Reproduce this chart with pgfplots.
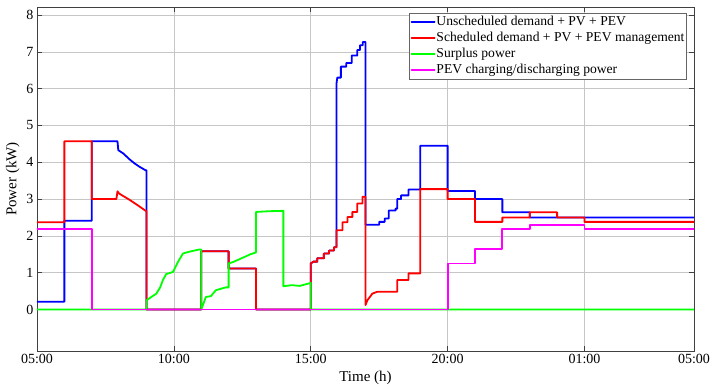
\documentclass[border=0pt]{standalone}
\usepackage{pgfplots}
\pgfplotsset{compat=1.18}
\usepackage{fontspec}
\setmainfont{Liberation Serif}
\usetikzlibrary{calc}
\definecolor{cblue}{RGB}{0,0,255}
\definecolor{cred}{RGB}{255,0,0}
\definecolor{cgreen}{RGB}{0,255,0}
\definecolor{cmag}{RGB}{255,0,255}
\begin{document}
\begin{tikzpicture}
\begin{axis}[
  name=ax,
  at={(0,0)}, anchor=south west,
  scale only axis,
  width=657pt, height=344pt,
  xmin=5, xmax=29, ymin=-1.13, ymax=8.22,
  xtick={5,10,15,20,25,29},
  xticklabels={05:00,10:00,15:00,20:00,01:00,05:00},
  ytick={0,1,2,3,4,5,6,7,8},
  /pgf/number format/assume math mode=true,
  ticklabel style={font=\fontsize{14}{16}\selectfont},
  label style={font=\fontsize{15}{17}\selectfont},
  xlabel={Time (h)},
  ylabel={Power (kW)},
  grid=major,
  major grid style={gray!45, line width=0.6pt},
  axis line style={black!75, line width=0.6pt},
  tick style={black!75, line width=0.6pt},
  tick align=inside,
  major tick length=5pt,
  every axis plot/.append style={line width=1.8pt, line join=round, line cap=round},
  legend image code/.code={\draw[#1, line width=1.8pt] (0pt,0pt) -- (23pt,0pt);},
  legend cell align=left,
  legend style={at={(0.989,0.983)}, anchor=north east,
    font=\fontsize{13.6}{15}\selectfont,
    draw=black!60, line width=0.6pt,
    inner xsep=1pt, inner ysep=1pt, row sep=0pt,
    nodes={inner xsep=1pt, inner ysep=1pt, text height=10.5pt, text depth=3.5pt}},
]
\addplot[color=cblue] coordinates {
(5,0.21)(6,0.21)(6,2.41)(7,2.41)(7,4.57)(7.94,4.57)(7.97,4.33)(8.15,4.24)(8.38,4.08)(8.56,3.97)(8.74,3.88)(8.97,3.78)(9,3.78)(9,0)
(11,0)(11,1.58)(12,1.58)(12,1.11)(13,1.11)(13,0)(15,0)(15,1.25)(15.1,1.3)(15.24,1.3)(15.24,1.39)(15.48,1.39)(15.48,1.52)(15.67,1.52)(15.67,1.6)(15.85,1.6)(15.85,1.69)(15.94,1.69)
(15.94,6.14)(15.97,6.3)(16.1,6.3)(16.1,6.6)(16.3,6.6)(16.3,6.7)(16.5,6.7)(16.5,6.9)(16.7,6.9)(16.7,7.05)(16.8,7.05)(16.8,7.18)(16.9,7.18)(16.9,7.27)(17,7.27)
(17,2.3)(17.5,2.3)(17.5,2.38)(17.7,2.38)(17.7,2.47)(17.85,2.47)(17.85,2.69)(18.1,2.69)(18.1,2.74)(18.16,2.74)(18.16,3.0)(18.3,3.0)(18.3,3.1)(18.57,3.1)(18.57,3.26)(19,3.26)
(19,4.45)(20,4.45)(20,3.22)(21,3.22)(21,3.0)(22,3.0)(22,2.64)(23,2.64)(23,2.5)(29,2.5)
};
\addlegendentry{Unscheduled demand + PV + PEV}
\addplot[color=cred] coordinates {
(5,2.37)(6,2.37)(6,4.57)(7,4.57)(7,3.0)(7.9,3.0)(7.94,3.21)(8.0,3.15)(8.2,3.06)(8.38,2.98)(8.56,2.89)(8.74,2.8)(8.97,2.68)(9,2.68)(9,0)
(11,0)(11,1.58)(12,1.58)(12,1.11)(13,1.11)(13,0)(15,0)(15,1.25)(15.1,1.3)(15.24,1.3)(15.24,1.39)(15.48,1.39)(15.48,1.52)(15.67,1.52)(15.67,1.6)(15.85,1.6)(15.85,1.69)(15.94,1.69)
(15.94,2.15)(16.16,2.15)(16.16,2.37)(16.34,2.37)(16.34,2.51)(16.52,2.51)(16.52,2.65)(16.7,2.65)(16.7,2.88)(16.89,2.88)(16.89,3.06)(17,3.06)
(17,0.12)(17.07,0.25)(17.25,0.43)(17.43,0.48)(18.16,0.48)(18.16,0.8)(18.57,0.8)(18.57,0.98)(19,0.98)
(19,3.27)(20,3.27)(20,3.0)(21,3.0)(21,2.38)(22,2.38)(22,2.5)(23,2.5)(23,2.64)(24,2.64)(24,2.5)(25,2.5)(25,2.38)(29,2.38)
};
\addlegendentry{Scheduled demand + PV + PEV management}
\addplot[color=cgreen] coordinates {
(5,0)(9,0)(9,0.25)(9.2,0.35)(9.36,0.43)(9.5,0.6)(9.6,0.8)(9.72,0.96)(9.97,1.02)(10.15,1.29)(10.33,1.52)(10.57,1.57)(10.93,1.63)(11,1.63)(11,0)
(11.05,0.1)(11.17,0.34)(11.35,0.36)(11.53,0.52)(11.71,0.56)(11.9,0.6)(12,0.6)(12,1.25)(12.2,1.3)(12.5,1.4)(12.8,1.5)(13,1.55)
(13,2.65)(13.5,2.67)(14,2.68)(14,0.63)(14.3,0.66)(14.6,0.64)(15,0.72)(15,0)(29,0)
};
\addlegendentry{Surplus power}
\addplot[color=cmag] coordinates {
(5,2.19)(7,2.19)(7,0)(20,0)(20,1.25)(21,1.25)(21,1.65)(22,1.65)(22,2.19)(23,2.19)(23,2.29)(25,2.29)(25,2.19)(29,2.19)
};
\addlegendentry{PEV charging/discharging power}
\end{axis}
\pgfresetboundingbox
\path[use as bounding box] ($(ax.south west)+(-37pt,-36pt)$) rectangle ($(ax.north east)+(25pt,7pt)$);
\end{tikzpicture}
\end{document}
